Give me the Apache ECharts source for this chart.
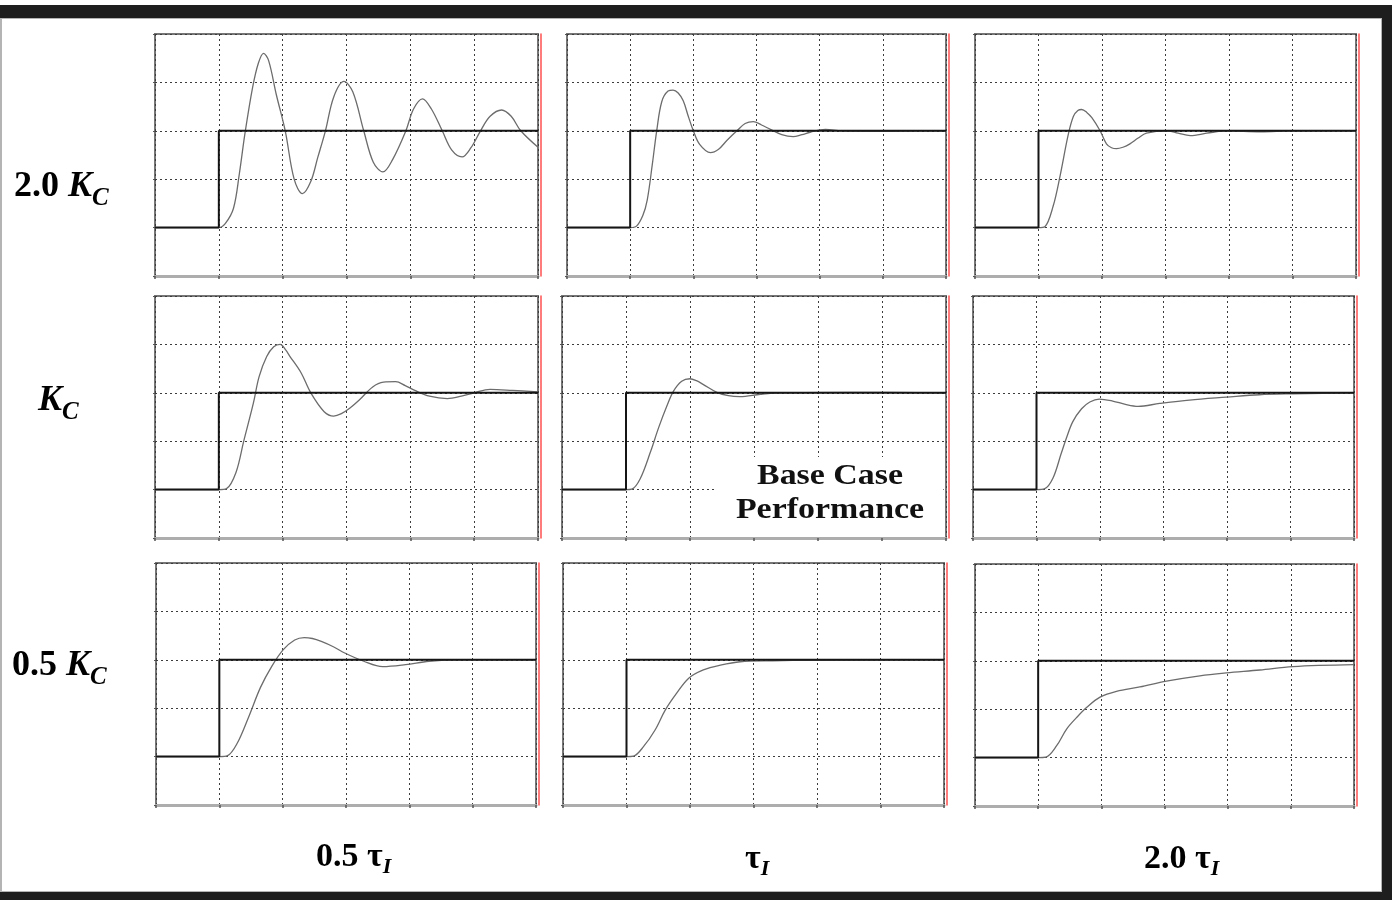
<!DOCTYPE html>
<html>
<head>
<meta charset="utf-8">
<title>PI controller tuning map</title>
<script src="https://cdn.jsdelivr.net/npm/echarts@6/dist/echarts.min.js"></script>
<style>
  html, body { margin: 0; padding: 0; background: #1e1e1e; }
  body { width: 1392px; height: 900px; position: relative; overflow: hidden; }
  #topStrip { position: absolute; left: 0; top: 0; width: 1392px; height: 5px; background: #fff; }
  #sheet { position: absolute; left: 0; top: 18px; width: 1382px; height: 874px; box-sizing: border-box;
           background: #fff; border: 1px solid #b4b4b4; border-left-width: 2px; }
  #chart { position: absolute; left: 0; top: 0; width: 1392px; height: 900px; }
</style>
</head>
<body>
<div id="topStrip"></div>
<div id="sheet"></div>
<div id="chart"></div>
<script>
// Controller response for three gains x three reset times.
// x = time in grid divisions (0..6), y = process variable in grid divisions (0..5)

var setpoint = [[0, 1], [1, 1], [1, 3], [6, 3]];

// row 1 : 2.0 Kc
var pvHiKcFastTi = [[0,1],[1,1],[1.1,1.08],[1.23,1.4],[1.32,2.1],[1.41,2.95],[1.53,3.9],[1.62,4.4],[1.7,4.6],
  [1.78,4.45],[1.9,3.75],[2.04,3.0],[2.18,2.0],[2.31,1.7],[2.44,1.95],[2.55,2.45],[2.67,3.0],[2.8,3.7],
  [2.96,4.02],[3.1,3.8],[3.27,3.0],[3.42,2.35],[3.57,2.15],[3.72,2.4],[3.93,3.0],[4.05,3.45],[4.19,3.66],
  [4.33,3.45],[4.5,3.0],[4.65,2.6],[4.81,2.46],[4.95,2.65],[5.1,3.0],[5.25,3.3],[5.43,3.43],[5.58,3.3],
  [5.73,3.0],[6,2.66]];
var pvHiKcTi = [[0,1],[1,1],[1.1,1.03],[1.2,1.25],[1.27,1.57],[1.35,2.3],[1.42,3.0],[1.5,3.6],[1.6,3.82],
  [1.68,3.84],[1.76,3.78],[1.84,3.62],[1.92,3.3],[2.0,3.0],[2.1,2.72],[2.27,2.55],[2.4,2.62],[2.53,2.8],
  [2.69,3.0],[2.82,3.15],[2.95,3.19],[3.08,3.12],[3.22,3.03],[3.4,2.92],[3.58,2.88],[3.72,2.92],[3.85,2.97],
  [4.09,3.03],[4.35,3.0],[5.0,2.99],[5.6,3.0],[6,3.0]];
var pvHiKcSlowTi = [[0,1],[1,1],[1.1,1.02],[1.23,1.44],[1.34,2.07],[1.47,2.93],[1.55,3.3],[1.62,3.42],
  [1.68,3.44],[1.76,3.38],[1.84,3.27],[1.97,3.0],[2.07,2.73],[2.15,2.65],[2.23,2.63],[2.33,2.66],[2.44,2.73],
  [2.57,2.85],[2.7,2.95],[3.02,3.0],[3.2,2.95],[3.39,2.9],[3.65,2.95],[3.96,3.0],[4.5,2.98],[5.0,3.0],[6,3.0]];

// row 2 : Kc
var pvKcFastTi = [[0,1],[1,1],[1.12,1.02],[1.27,1.36],[1.39,2.0],[1.54,2.78],[1.63,3.33],[1.75,3.75],
  [1.86,3.95],[1.96,4.0],[2.05,3.88],[2.11,3.76],[2.29,3.41],[2.44,3.0],[2.65,2.61],[2.8,2.52],[2.92,2.57],
  [3.05,2.68],[3.2,2.85],[3.41,3.12],[3.58,3.22],[3.77,3.23],[3.92,3.15],[4.07,3.05],[4.3,2.93],[4.58,2.88],
  [4.8,2.93],[5.0,3.0],[5.25,3.07],[5.6,3.05],[6,3.02]];
var pvKcTi = [[0,1],[1,1],[1.09,1.01],[1.22,1.22],[1.38,1.77],[1.51,2.28],[1.64,2.73],[1.74,3.03],[1.87,3.24],
  [2.0,3.29],[2.1,3.25],[2.21,3.17],[2.42,3.01],[2.6,2.94],[2.78,2.92],[3.1,2.97],[3.41,3.0],[4.5,3.01],[6,3.0]];
var pvKcSlowTi = [[0,1],[1,1],[1.13,1.02],[1.26,1.24],[1.39,1.75],[1.47,2.06],[1.57,2.4],[1.71,2.67],
  [1.84,2.81],[1.99,2.87],[2.2,2.83],[2.4,2.76],[2.6,2.72],[2.94,2.78],[3.41,2.85],[3.99,2.91],[4.51,2.96],
  [5.04,2.98],[5.5,2.99],[6,3.0]];

// row 3 : 0.5 Kc
var pvLoKcFastTi = [[0,1],[1,1],[1.13,1.02],[1.28,1.27],[1.46,1.81],[1.65,2.43],[1.83,2.87],[2.01,3.21],
  [2.19,3.41],[2.34,3.46],[2.47,3.44],[2.61,3.38],[2.8,3.27],[2.98,3.14],[3.28,2.97],[3.58,2.86],[3.94,2.9],
  [4.31,2.97],[4.79,3.0],[6,3.0]];
var pvLoKcTi = [[0,1],[1,1],[1.11,1.01],[1.27,1.21],[1.45,1.55],[1.61,1.96],[1.79,2.31],[1.98,2.62],
  [2.21,2.79],[2.48,2.89],[2.79,2.96],[3.31,2.98],[3.94,2.99],[6,3.0]];
var pvLoKcSlowTi = [[0,1],[1,1],[1.12,1.01],[1.29,1.24],[1.45,1.59],[1.61,1.83],[1.77,2.04],[1.98,2.25],
  [2.24,2.37],[2.61,2.46],[3.03,2.58],[3.56,2.69],[3.98,2.75],[4.51,2.81],[5.03,2.88],[6,2.92]];

var rowLabels = [['2.0 ', 'K', 'C'], ['', 'K', 'C'], ['0.5 ', 'K', 'C']];
var colLabels = [['0.5 ', 'τ', 'I'], ['', 'τ', 'I'], ['2.0 ', 'τ', 'I']];
var noteText = 'Base Case\nPerformance';

var responses = [
  pvHiKcFastTi, pvHiKcTi, pvHiKcSlowTi,
  pvKcFastTi, pvKcTi, pvKcSlowTi,
  pvLoKcFastTi, pvLoKcTi, pvLoKcSlowTi
];

// plot boxes in page pixels [left, top, width, height]
var boxes = [
  [155, 34, 383, 242], [567, 34, 379, 242], [975, 34, 381, 242],
  [155, 296, 383, 242], [562, 296, 384, 242], [973, 296, 381, 242],
  [156, 563, 380, 242], [563, 563, 381, 242], [975, 564, 379, 242]
];

var chart = echarts.init(document.getElementById('chart'));
var serif = '"Liberation Serif", "DejaVu Serif", serif';
var gridDots = { color: '#3c3c3c', width: 1, type: [2, 3] };

var grids = [], xAxes = [], yAxes = [], series = [];
boxes.forEach(function (b, i) {
  grids.push({
    left: b[0], top: b[1], width: b[2], height: b[3],
    show: true, borderColor: '#767676', borderWidth: 2
  });
  xAxes.push({
    gridIndex: i, type: 'value', min: 0, max: 6, interval: 1,
    axisLine: { show: true, onZero: false, lineStyle: { color: '#adadad', width: 3 } },
    axisTick: { show: true, length: 3, lineStyle: { color: '#555', width: 1.5 } },
    axisLabel: { show: false },
    splitLine: { show: true, lineStyle: gridDots }
  });
  yAxes.push({
    gridIndex: i, type: 'value', min: 0, max: 5, interval: 1,
    axisLine: { show: false },
    axisTick: { show: true, length: 2, lineStyle: { color: '#555' } },
    axisLabel: { show: false },
    splitLine: { show: true, lineStyle: gridDots }
  });
  // thin red edge just right of each box
  yAxes.push({
    gridIndex: i, type: 'value', min: 0, max: 5, position: 'right', offset: 3,
    axisLine: { show: true, lineStyle: { color: '#ff5050', width: 1.5 } },
    axisTick: { show: false }, axisLabel: { show: false }, splitLine: { show: false }
  });
  series.push({
    type: 'line', xAxisIndex: i, yAxisIndex: i * 2, data: setpoint,
    symbol: 'none', silent: true, z: 4,
    lineStyle: { color: '#151515', width: 2 }
  });
  series.push({
    type: 'line', xAxisIndex: i, yAxisIndex: i * 2, data: responses[i],
    symbol: 'none', silent: true, smooth: 0.35, z: 3,
    lineStyle: { color: '#6c6c6c', width: 1.3 }
  });
});

// rich styles: n = upright bold, k = bold italic, s = lowered subscript
function labelRich(size, subSize, drop) {
  return {
    n: { fontFamily: serif, fontWeight: 'bold', fontSize: size, lineHeight: size, verticalAlign: 'top', color: '#111' },
    k: { fontFamily: serif, fontWeight: 'bold', fontStyle: 'italic', fontSize: size, lineHeight: size, verticalAlign: 'top', color: '#111' },
    s: { fontFamily: serif, fontWeight: 'bold', fontStyle: 'italic', fontSize: subSize, lineHeight: size,
         verticalAlign: 'top', padding: [drop, 0, 0, 0], color: '#111' }
  };
}

var graphics = [];
var rowPos = [[14, 169], [38, 383], [12, 648]];
rowLabels.forEach(function (p, i) {
  graphics.push({
    type: 'text', x: rowPos[i][0], y: rowPos[i][1], z: 100,
    style: {
      text: (p[0] ? '{n|' + p[0] + '}' : '') + '{k|' + p[1] + '}{s|' + p[2] + '}',
      rich: labelRich(36, 25, 17), verticalAlign: 'top', align: 'left'
    }
  });
});
var colPos = [[316, 840], [745, 842], [1144, 842]];
colLabels.forEach(function (p, i) {
  graphics.push({
    type: 'text', x: colPos[i][0], y: colPos[i][1], z: 100,
    style: {
      text: (p[0] ? '{n|' + p[0] + '}' : '') + '{n|' + p[1] + '}{s|' + p[2] + '}',
      rich: labelRich(34, 22, 16), verticalAlign: 'top', align: 'left'
    }
  });
});
graphics.push({
  type: 'text', x: 830, y: 457, z: 100, scaleX: 1.13,
  style: {
    text: noteText, fontFamily: serif, fontWeight: 'bold', fontSize: 30, lineHeight: 34,
    fill: '#111', align: 'center', verticalAlign: 'top',
    backgroundColor: '#fff', padding: [2, 17, 10, 17]
  }
});

chart.setOption({
  animation: false,
  grid: grids,
  xAxis: xAxes,
  yAxis: yAxes,
  series: series,
  graphic: graphics
});
</script>
</body>
</html>
